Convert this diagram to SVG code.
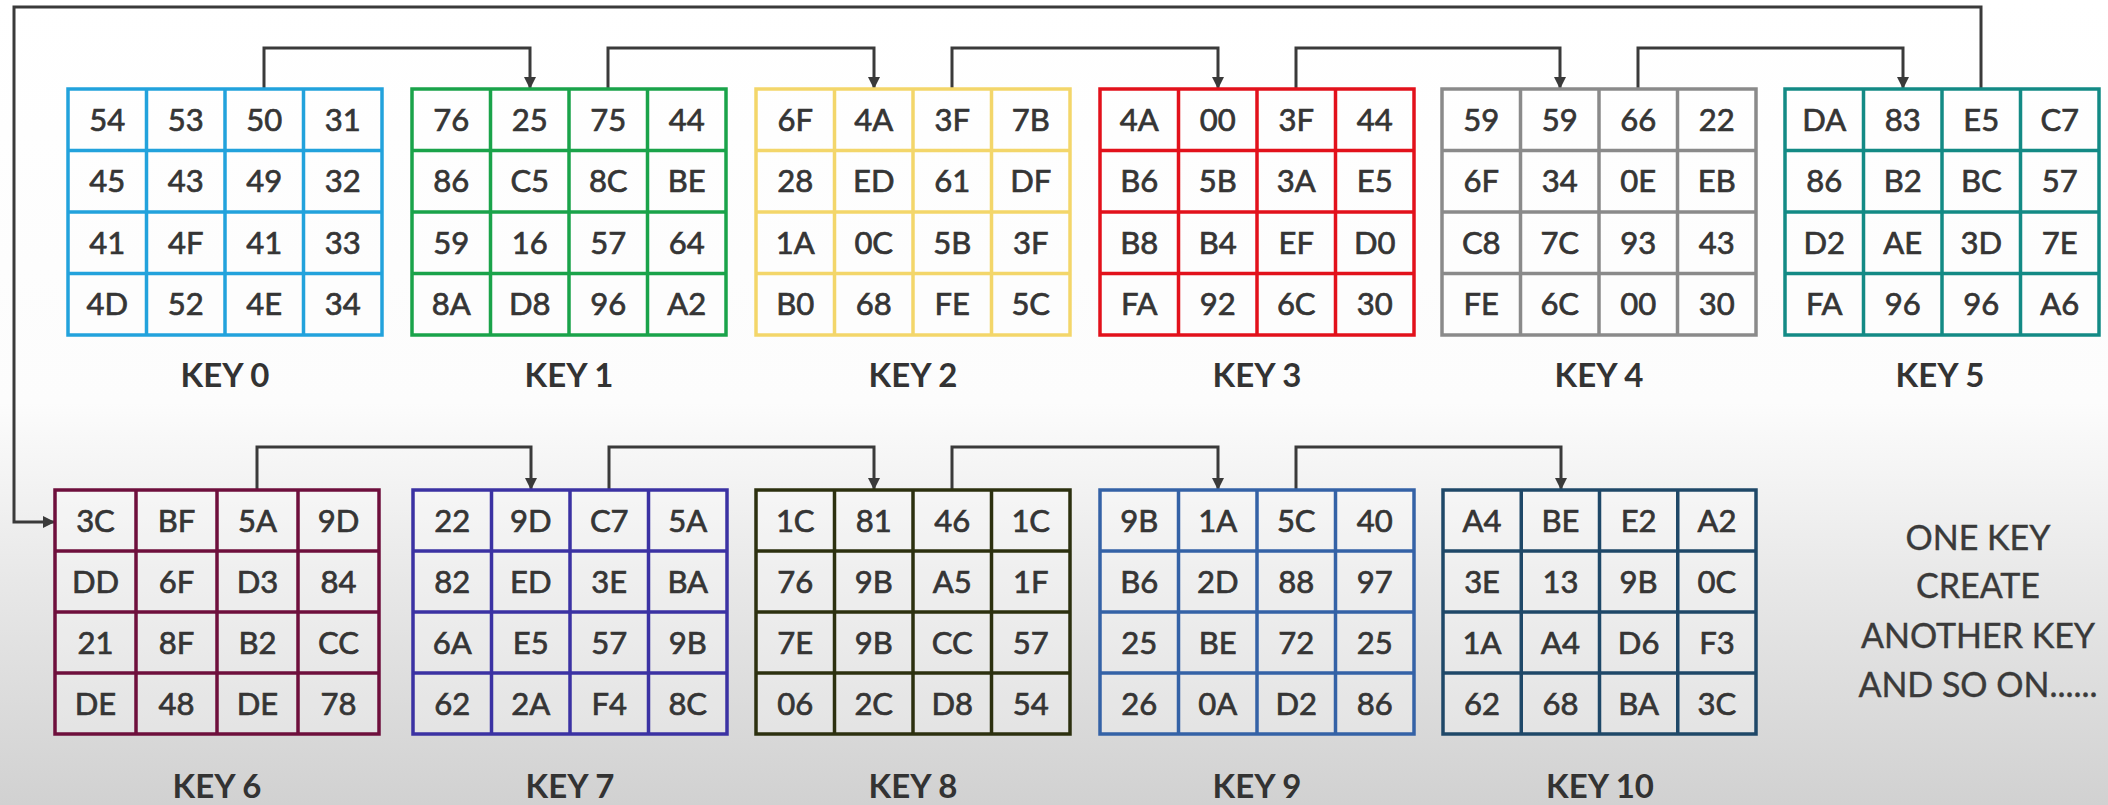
<svg xmlns="http://www.w3.org/2000/svg" width="2108" height="805" viewBox="0 0 2108 805">
<defs>
<linearGradient id="bg" x1="0" y1="0" x2="0" y2="805" gradientUnits="userSpaceOnUse">
<stop offset="0" stop-color="#ffffff"/>
<stop offset="0.5" stop-color="#fcfcfc"/>
<stop offset="0.72" stop-color="#e8e8e8"/>
<stop offset="1" stop-color="#d1d1d1"/>
</linearGradient>
<marker id="arr" viewBox="0 0 12 12" refX="11" refY="6" markerWidth="12" markerHeight="12" markerUnits="userSpaceOnUse" orient="auto">
<path d="M0,0 L12,6 L0,12 z" fill="#3a3a3a"/>
</marker>
<style>
.c{font-family:Lato,"Open Sans","Liberation Sans",sans-serif;font-size:31px;fill:#353535;stroke:#353535;stroke-width:0.7px;text-anchor:middle}
.k{font-family:Lato,"Open Sans","Liberation Sans",sans-serif;font-size:33px;font-weight:700;fill:#333;text-anchor:middle}
.n{font-family:Lato,"Open Sans","Liberation Sans",sans-serif;font-size:34px;fill:#3a3a3a;stroke:#3a3a3a;stroke-width:0.4px;text-anchor:middle}
.g{fill:#ffffff;fill-opacity:0.3;stroke-width:3.5}
.l{fill:none;stroke-width:3.5}
.cn{fill:none;stroke:#3a3a3a;stroke-width:3}
</style>
</defs>
<rect x="0" y="0" width="2108" height="805" fill="url(#bg)"/>

<g id="connectors">
<path class="cn" d="M264,89 V48 H530 V88" marker-end="url(#arr)"/>
<path class="cn" d="M608,89 V48 H874 V88" marker-end="url(#arr)"/>
<path class="cn" d="M952,89 V48 H1218 V88" marker-end="url(#arr)"/>
<path class="cn" d="M1296,89 V48 H1560 V88" marker-end="url(#arr)"/>
<path class="cn" d="M1638,89 V48 H1903 V88" marker-end="url(#arr)"/>
<path class="cn" d="M1981,89 V7 H14 V522 H54" marker-end="url(#arr)"/>
<path class="cn" d="M257,490 V447 H531 V489" marker-end="url(#arr)"/>
<path class="cn" d="M609,490 V447 H874 V489" marker-end="url(#arr)"/>
<path class="cn" d="M952,490 V447 H1218 V489" marker-end="url(#arr)"/>
<path class="cn" d="M1296,490 V447 H1561 V489" marker-end="url(#arr)"/>
</g>

<g id="key0">
<rect class="g" x="68" y="89" width="314" height="246" stroke="#22a2dc"/>
<path class="l" stroke="#22a2dc" d="M146.5,89 V335 M225,89 V335 M303.5,89 V335 M68,150.5 H382 M68,212 H382 M68,273.5 H382"/>
<text class="c" x="107.25" y="131">54</text><text class="c" x="185.75" y="131">53</text><text class="c" x="264.25" y="131">50</text><text class="c" x="342.75" y="131">31</text>
<text class="c" x="107.25" y="192">45</text><text class="c" x="185.75" y="192">43</text><text class="c" x="264.25" y="192">49</text><text class="c" x="342.75" y="192">32</text>
<text class="c" x="107.25" y="254">41</text><text class="c" x="185.75" y="254">4F</text><text class="c" x="264.25" y="254">41</text><text class="c" x="342.75" y="254">33</text>
<text class="c" x="107.25" y="315">4D</text><text class="c" x="185.75" y="315">52</text><text class="c" x="264.25" y="315">4E</text><text class="c" x="342.75" y="315">34</text>
<text class="k" x="225" y="387">KEY 0</text>
</g>

<g id="key1">
<rect class="g" x="412" y="89" width="314" height="246" stroke="#1aa34a"/>
<path class="l" stroke="#1aa34a" d="M490.5,89 V335 M569,89 V335 M647.5,89 V335 M412,150.5 H726 M412,212 H726 M412,273.5 H726"/>
<text class="c" x="451.25" y="131">76</text><text class="c" x="529.75" y="131">25</text><text class="c" x="608.25" y="131">75</text><text class="c" x="686.75" y="131">44</text>
<text class="c" x="451.25" y="192">86</text><text class="c" x="529.75" y="192">C5</text><text class="c" x="608.25" y="192">8C</text><text class="c" x="686.75" y="192">BE</text>
<text class="c" x="451.25" y="254">59</text><text class="c" x="529.75" y="254">16</text><text class="c" x="608.25" y="254">57</text><text class="c" x="686.75" y="254">64</text>
<text class="c" x="451.25" y="315">8A</text><text class="c" x="529.75" y="315">D8</text><text class="c" x="608.25" y="315">96</text><text class="c" x="686.75" y="315">A2</text>
<text class="k" x="569" y="387">KEY 1</text>
</g>

<g id="key2">
<rect class="g" x="756" y="89" width="314" height="246" stroke="#f3d66a"/>
<path class="l" stroke="#f3d66a" d="M834.5,89 V335 M913,89 V335 M991.5,89 V335 M756,150.5 H1070 M756,212 H1070 M756,273.5 H1070"/>
<text class="c" x="795.25" y="131">6F</text><text class="c" x="873.75" y="131">4A</text><text class="c" x="952.25" y="131">3F</text><text class="c" x="1030.75" y="131">7B</text>
<text class="c" x="795.25" y="192">28</text><text class="c" x="873.75" y="192">ED</text><text class="c" x="952.25" y="192">61</text><text class="c" x="1030.75" y="192">DF</text>
<text class="c" x="795.25" y="254">1A</text><text class="c" x="873.75" y="254">0C</text><text class="c" x="952.25" y="254">5B</text><text class="c" x="1030.75" y="254">3F</text>
<text class="c" x="795.25" y="315">B0</text><text class="c" x="873.75" y="315">68</text><text class="c" x="952.25" y="315">FE</text><text class="c" x="1030.75" y="315">5C</text>
<text class="k" x="913" y="387">KEY 2</text>
</g>

<g id="key3">
<rect class="g" x="1100" y="89" width="314" height="246" stroke="#e2111b"/>
<path class="l" stroke="#e2111b" d="M1178.5,89 V335 M1257,89 V335 M1335.5,89 V335 M1100,150.5 H1414 M1100,212 H1414 M1100,273.5 H1414"/>
<text class="c" x="1139.25" y="131">4A</text><text class="c" x="1217.75" y="131">00</text><text class="c" x="1296.25" y="131">3F</text><text class="c" x="1374.75" y="131">44</text>
<text class="c" x="1139.25" y="192">B6</text><text class="c" x="1217.75" y="192">5B</text><text class="c" x="1296.25" y="192">3A</text><text class="c" x="1374.75" y="192">E5</text>
<text class="c" x="1139.25" y="254">B8</text><text class="c" x="1217.75" y="254">B4</text><text class="c" x="1296.25" y="254">EF</text><text class="c" x="1374.75" y="254">D0</text>
<text class="c" x="1139.25" y="315">FA</text><text class="c" x="1217.75" y="315">92</text><text class="c" x="1296.25" y="315">6C</text><text class="c" x="1374.75" y="315">30</text>
<text class="k" x="1257" y="387">KEY 3</text>
</g>

<g id="key4">
<rect class="g" x="1442" y="89" width="314" height="246" stroke="#8a8a8a"/>
<path class="l" stroke="#8a8a8a" d="M1520.5,89 V335 M1599,89 V335 M1677.5,89 V335 M1442,150.5 H1756 M1442,212 H1756 M1442,273.5 H1756"/>
<text class="c" x="1481.25" y="131">59</text><text class="c" x="1559.75" y="131">59</text><text class="c" x="1638.25" y="131">66</text><text class="c" x="1716.75" y="131">22</text>
<text class="c" x="1481.25" y="192">6F</text><text class="c" x="1559.75" y="192">34</text><text class="c" x="1638.25" y="192">0E</text><text class="c" x="1716.75" y="192">EB</text>
<text class="c" x="1481.25" y="254">C8</text><text class="c" x="1559.75" y="254">7C</text><text class="c" x="1638.25" y="254">93</text><text class="c" x="1716.75" y="254">43</text>
<text class="c" x="1481.25" y="315">FE</text><text class="c" x="1559.75" y="315">6C</text><text class="c" x="1638.25" y="315">00</text><text class="c" x="1716.75" y="315">30</text>
<text class="k" x="1599" y="387">KEY 4</text>
</g>

<g id="key5">
<rect class="g" x="1785" y="89" width="314" height="246" stroke="#138a85"/>
<path class="l" stroke="#138a85" d="M1863.5,89 V335 M1942,89 V335 M2020.5,89 V335 M1785,150.5 H2099 M1785,212 H2099 M1785,273.5 H2099"/>
<text class="c" x="1824.25" y="131">DA</text><text class="c" x="1902.75" y="131">83</text><text class="c" x="1981.25" y="131">E5</text><text class="c" x="2059.75" y="131">C7</text>
<text class="c" x="1824.25" y="192">86</text><text class="c" x="1902.75" y="192">B2</text><text class="c" x="1981.25" y="192">BC</text><text class="c" x="2059.75" y="192">57</text>
<text class="c" x="1824.25" y="254">D2</text><text class="c" x="1902.75" y="254">AE</text><text class="c" x="1981.25" y="254">3D</text><text class="c" x="2059.75" y="254">7E</text>
<text class="c" x="1824.25" y="315">FA</text><text class="c" x="1902.75" y="315">96</text><text class="c" x="1981.25" y="315">96</text><text class="c" x="2059.75" y="315">A6</text>
<text class="k" x="1940" y="387">KEY 5</text>
</g>

<g id="key6">
<rect class="g" x="55" y="490" width="324" height="244" stroke="#6e0f3c"/>
<path class="l" stroke="#6e0f3c" d="M136,490 V734 M217,490 V734 M298,490 V734 M55,551 H379 M55,612 H379 M55,673 H379"/>
<text class="c" x="95.5" y="531.5">3C</text><text class="c" x="176.5" y="531.5">BF</text><text class="c" x="257.5" y="531.5">5A</text><text class="c" x="338.5" y="531.5">9D</text>
<text class="c" x="95.5" y="592.5">DD</text><text class="c" x="176.5" y="592.5">6F</text><text class="c" x="257.5" y="592.5">D3</text><text class="c" x="338.5" y="592.5">84</text>
<text class="c" x="95.5" y="653.5">21</text><text class="c" x="176.5" y="653.5">8F</text><text class="c" x="257.5" y="653.5">B2</text><text class="c" x="338.5" y="653.5">CC</text>
<text class="c" x="95.5" y="714.5">DE</text><text class="c" x="176.5" y="714.5">48</text><text class="c" x="257.5" y="714.5">DE</text><text class="c" x="338.5" y="714.5">78</text>
<text class="k" x="217" y="798">KEY 6</text>
</g>

<g id="key7">
<rect class="g" x="413" y="490" width="314" height="244" stroke="#3b32a3"/>
<path class="l" stroke="#3b32a3" d="M491.5,490 V734 M570,490 V734 M648.5,490 V734 M413,551 H727 M413,612 H727 M413,673 H727"/>
<text class="c" x="452.25" y="531.5">22</text><text class="c" x="530.75" y="531.5">9D</text><text class="c" x="609.25" y="531.5">C7</text><text class="c" x="687.75" y="531.5">5A</text>
<text class="c" x="452.25" y="592.5">82</text><text class="c" x="530.75" y="592.5">ED</text><text class="c" x="609.25" y="592.5">3E</text><text class="c" x="687.75" y="592.5">BA</text>
<text class="c" x="452.25" y="653.5">6A</text><text class="c" x="530.75" y="653.5">E5</text><text class="c" x="609.25" y="653.5">57</text><text class="c" x="687.75" y="653.5">9B</text>
<text class="c" x="452.25" y="714.5">62</text><text class="c" x="530.75" y="714.5">2A</text><text class="c" x="609.25" y="714.5">F4</text><text class="c" x="687.75" y="714.5">8C</text>
<text class="k" x="570" y="798">KEY 7</text>
</g>

<g id="key8">
<rect class="g" x="756" y="490" width="314" height="244" stroke="#2c300f"/>
<path class="l" stroke="#2c300f" d="M834.5,490 V734 M913,490 V734 M991.5,490 V734 M756,551 H1070 M756,612 H1070 M756,673 H1070"/>
<text class="c" x="795.25" y="531.5">1C</text><text class="c" x="873.75" y="531.5">81</text><text class="c" x="952.25" y="531.5">46</text><text class="c" x="1030.75" y="531.5">1C</text>
<text class="c" x="795.25" y="592.5">76</text><text class="c" x="873.75" y="592.5">9B</text><text class="c" x="952.25" y="592.5">A5</text><text class="c" x="1030.75" y="592.5">1F</text>
<text class="c" x="795.25" y="653.5">7E</text><text class="c" x="873.75" y="653.5">9B</text><text class="c" x="952.25" y="653.5">CC</text><text class="c" x="1030.75" y="653.5">57</text>
<text class="c" x="795.25" y="714.5">06</text><text class="c" x="873.75" y="714.5">2C</text><text class="c" x="952.25" y="714.5">D8</text><text class="c" x="1030.75" y="714.5">54</text>
<text class="k" x="913" y="798">KEY 8</text>
</g>

<g id="key9">
<rect class="g" x="1100" y="490" width="314" height="244" stroke="#3462a6"/>
<path class="l" stroke="#3462a6" d="M1178.5,490 V734 M1257,490 V734 M1335.5,490 V734 M1100,551 H1414 M1100,612 H1414 M1100,673 H1414"/>
<text class="c" x="1139.25" y="531.5">9B</text><text class="c" x="1217.75" y="531.5">1A</text><text class="c" x="1296.25" y="531.5">5C</text><text class="c" x="1374.75" y="531.5">40</text>
<text class="c" x="1139.25" y="592.5">B6</text><text class="c" x="1217.75" y="592.5">2D</text><text class="c" x="1296.25" y="592.5">88</text><text class="c" x="1374.75" y="592.5">97</text>
<text class="c" x="1139.25" y="653.5">25</text><text class="c" x="1217.75" y="653.5">BE</text><text class="c" x="1296.25" y="653.5">72</text><text class="c" x="1374.75" y="653.5">25</text>
<text class="c" x="1139.25" y="714.5">26</text><text class="c" x="1217.75" y="714.5">0A</text><text class="c" x="1296.25" y="714.5">D2</text><text class="c" x="1374.75" y="714.5">86</text>
<text class="k" x="1257" y="798">KEY 9</text>
</g>

<g id="key10">
<rect class="g" x="1443" y="490" width="313" height="244" stroke="#1f4868"/>
<path class="l" stroke="#1f4868" d="M1521.25,490 V734 M1599.5,490 V734 M1677.75,490 V734 M1443,551 H1756 M1443,612 H1756 M1443,673 H1756"/>
<text class="c" x="1482.1" y="531.5">A4</text><text class="c" x="1560.4" y="531.5">BE</text><text class="c" x="1638.6" y="531.5">E2</text><text class="c" x="1716.9" y="531.5">A2</text>
<text class="c" x="1482.1" y="592.5">3E</text><text class="c" x="1560.4" y="592.5">13</text><text class="c" x="1638.6" y="592.5">9B</text><text class="c" x="1716.9" y="592.5">0C</text>
<text class="c" x="1482.1" y="653.5">1A</text><text class="c" x="1560.4" y="653.5">A4</text><text class="c" x="1638.6" y="653.5">D6</text><text class="c" x="1716.9" y="653.5">F3</text>
<text class="c" x="1482.1" y="714.5">62</text><text class="c" x="1560.4" y="714.5">68</text><text class="c" x="1638.6" y="714.5">BA</text><text class="c" x="1716.9" y="714.5">3C</text>
<text class="k" x="1600" y="798">KEY 10</text>
</g>

<g id="note">
<text class="n" x="1978" y="550">ONE KEY</text>
<text class="n" x="1978" y="598">CREATE</text>
<text class="n" x="1978" y="648">ANOTHER KEY</text>
<text class="n" x="1978" y="697">AND SO ON......</text>
</g>
</svg>
